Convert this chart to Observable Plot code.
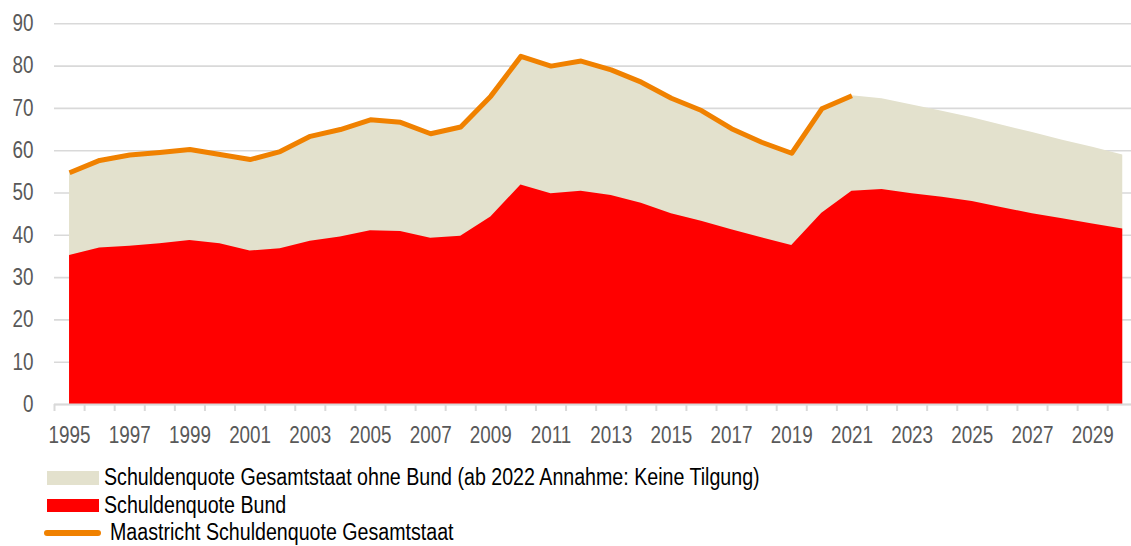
<!DOCTYPE html>
<html>
<head>
<meta charset="utf-8">
<script src="https://cdn.jsdelivr.net/npm/d3@7"></script>
<script src="https://cdn.jsdelivr.net/npm/@observablehq/plot@0.6"></script>
<style>
  html, body { margin: 0; padding: 0; background: #fff; }
  #chart { width: 1131px; }
  .legend { padding-top: 8px; font-family: 'Liberation Sans', Arial, sans-serif; font-size: 23.5px; color: #000; }
  .row { height: 27.5px; display: flex; align-items: center; white-space: nowrap; }
  .sw { display: inline-block; flex: none; }
  .lt { display: inline-block; transform: scaleX(0.835); transform-origin: 0 50%; line-height: 19px; }
</style>
</head>
<body>
<div id="chart"></div>
<script>
const years = [1995,1996,1997,1998,1999,2000,2001,2002,2003,2004,2005,2006,2007,2008,2009,2010,2011,2012,2013,2014,2015,2016,2017,2018,2019,2020,2021,2022,2023,2024,2025,2026,2027,2028,2029,2030];
// Upper edge of the beige area (Gesamtstaat incl. Bund; ab 2022 Annahme: keine Tilgung)
const gesamtTop = [54.8,57.7,59.0,59.6,60.3,59.1,57.9,59.8,63.4,65.0,67.3,66.7,64.0,65.6,72.9,82.3,80.0,81.2,79.1,76.2,72.4,69.5,65.2,62.0,59.4,69.9,73.0,72.3,70.8,69.3,67.8,66.0,64.3,62.5,60.8,59.0];
const bund = [35.2,37.0,37.4,38.0,38.8,38.0,36.3,36.8,38.6,39.6,41.1,40.9,39.3,39.8,44.3,51.9,49.8,50.4,49.4,47.6,45.1,43.3,41.3,39.4,37.6,45.2,50.4,50.8,49.8,49.0,48.0,46.5,45.1,43.9,42.7,41.5];
const maastrichtYears = [1995,1996,1997,1998,1999,2000,2001,2002,2003,2004,2005,2006,2007,2008,2009,2010,2011,2012,2013,2014,2015,2016,2017,2018,2019,2020,2021];
const maastricht = [54.8,57.7,59.0,59.6,60.3,59.1,57.9,59.8,63.4,65.0,67.3,66.7,64.0,65.6,72.9,82.3,80.0,81.2,79.1,76.2,72.4,69.5,65.2,62.0,59.4,69.9,73.0];
const xTickLabels = [1995,1997,1999,2001,2003,2005,2007,2009,2011,2013,2015,2017,2019,2021,2023,2025,2027,2029];
const yTicks = [0,10,20,30,40,50,60,70,80,90];
const seriesNames = [
  "Schuldenquote Gesamtstaat ohne Bund (ab 2022 Annahme: Keine Tilgung)",
  "Schuldenquote Bund",
  "Maastricht Schuldenquote Gesamtstaat"
];
const colors = ["#e3e1cd", "#ff0000", "#f08100"];

const areaData = years.map((y, i) => ({year: y, total: gesamtTop[i], bund: bund[i]}));
const lineData = maastrichtYears.map((y, i) => ({year: y, value: maastricht[i]}));
// category boundaries between years (tick marks on the x axis)
const boundaries = years.map(y => y - 0.5).concat([years[years.length - 1] + 0.5]);

const font = "'Liberation Sans', Arial, sans-serif";

const chart = Plot.plot({
  width: 1131,
  height: 456,
  marginLeft: 54,
  marginRight: 0,
  marginTop: 23,
  marginBottom: 52,
  style: {fontFamily: font, background: "#fff", overflow: "hidden"},
  x: {domain: [years[0] - 0.5, years[years.length - 1] + 0.5], range: [54, 1137.3]},
  y: {domain: [0, 90], range: [404, 23.3]},
  marks: [
    Plot.gridY(yTicks, {stroke: "#d9d9d9", strokeOpacity: 1, strokeWidth: 1.6}),
    Plot.areaY(areaData, {x: "year", y1: 0, y2: "total", fill: colors[0]}),
    Plot.areaY(areaData, {x: "year", y1: 0, y2: "bund", fill: colors[1]}),
    Plot.ruleY([0], {stroke: "#d9d9d9", strokeWidth: 2}),
    Plot.axisX(boundaries, {tickSize: 7, tickFormat: () => "", stroke: "#d9d9d9", strokeWidth: 2, label: null}),
    Plot.axisX(xTickLabels, {tickSize: 0, tickPadding: 22, tickFormat: d => String(d), fontSize: 23, fill: "#595959", label: null}),
    Plot.axisY(yTicks, {tickSize: 0, tickPadding: 21, fontSize: 23, fill: "#595959", label: null}),
    Plot.lineY(lineData, {x: "year", y: "value", stroke: colors[2], strokeWidth: 5, strokeLinejoin: "round", strokeLinecap: "butt"})
  ]
});
// condense axis text horizontally (narrow typeface look), scaling around each text's anchor
chart.querySelectorAll("text").forEach(t => {
  const x = +(t.getAttribute("x") || 0);
  const tr = t.getAttribute("transform") || "";
  t.setAttribute("transform", `${tr} translate(${x},0) scale(0.82,1) translate(${-x},0)`);
});
document.getElementById("chart").appendChild(chart);

// Legend below the SVG
const legend = document.createElement("div");
legend.className = "legend";
const swatchStyles = [
  "margin-left:47px;width:52px;height:13.5px;margin-right:5px;",
  "margin-left:47px;width:52px;height:13.5px;margin-right:5px;",
  "margin-left:44px;width:57px;height:6px;border-radius:3px;margin-right:9px;"
];
seriesNames.forEach((name, i) => {
  const row = document.createElement("div");
  row.className = "row";
  const sw = document.createElement("span");
  sw.className = "sw";
  sw.setAttribute("style", swatchStyles[i] + "background:" + colors[i] + ";");
  const t = document.createElement("span");
  t.className = "lt";
  t.textContent = name;
  row.appendChild(sw);
  row.appendChild(t);
  legend.appendChild(row);
});
document.getElementById("chart").appendChild(legend);
</script>
</body>
</html>
